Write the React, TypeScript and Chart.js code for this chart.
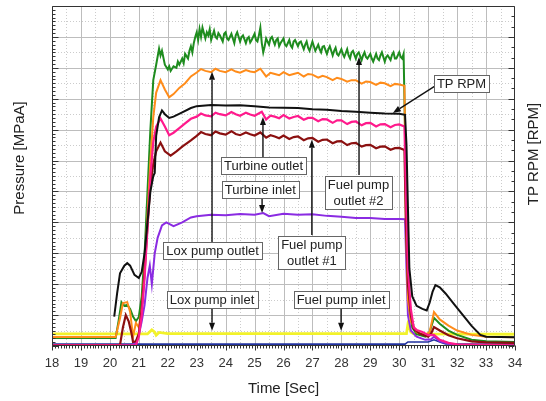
import React, { useEffect, useRef } from 'react';
import { Chart, registerables } from 'chart.js';
Chart.register(...registerables);

// ---- data (time [s], pressure value on 0..11 grid units) ----
const timeTicks = [18, 19, 20, 21, 22, 23, 24, 25, 26, 27, 28, 29, 30, 31, 32, 33, 34];

const greenPts: [number, number][] = [
  [18, 0.26], [20.2, 0.26], [20.3, 0.8], [20.4, 1.42], [20.5, 1.3], [20.6, 1.33], [20.7, 1.2], [20.8, 0.95],
  [20.9, 0.8], [21.0, 0.94], [21.1, 1.6], [21.2, 3.0], [21.3, 5.0], [21.4, 7.0], [21.5, 8.6], [21.6, 9.1],
  [21.7, 9.62], [21.75, 9.4], [21.8, 9.55], [21.9, 9.1], [22.0, 8.95], [22.05, 9.05], [22.1, 8.9], [22.2, 9.05],
  [22.3, 9.0], [22.35, 9.2], [22.4, 9.1], [22.5, 9.3], [22.55, 9.15], [22.6, 9.45], [22.7, 9.3], [22.75, 9.55],
  [22.8, 9.7], [22.85, 9.5], [22.9, 9.8], [22.95, 10.0], [23.0, 10.15], [23.05, 9.9], [23.1, 10.25], [23.15, 10.0],
  [23.2, 10.3], [23.3, 9.95], [23.35, 10.15], [23.4, 10.05], [23.45, 10.25], [23.5, 9.9], [23.6, 10.2], [23.65, 10.0],
  [23.7, 9.95], [23.75, 10.12], [23.8, 10.05], [23.9, 9.85], [23.95, 10.1], [24.0, 10.15], [24.05, 9.95], [24.1, 9.9],
  [24.2, 10.1], [24.25, 9.95], [24.3, 9.8], [24.35, 10.05], [24.4, 10.15], [24.5, 9.85], [24.55, 10.0], [24.6, 10.05],
  [24.7, 9.8], [24.75, 9.95], [24.8, 10.0], [24.85, 9.82], [24.9, 9.9], [25.0, 10.1], [25.05, 9.9], [25.1, 9.85],
  [25.15, 10.05], [25.2, 10.3], [25.25, 9.8], [25.3, 9.5], [25.35, 9.7], [25.4, 9.95], [25.5, 9.75], [25.55, 9.95],
  [25.6, 10.0], [25.7, 9.75], [25.75, 9.9], [25.8, 9.95], [25.85, 9.7], [25.9, 9.8], [26.0, 9.95], [26.05, 9.75],
  [26.1, 9.7], [26.2, 9.9], [26.25, 9.72], [26.3, 9.65], [26.35, 9.85], [26.4, 9.9], [26.5, 9.7], [26.55, 9.82],
  [26.6, 9.85], [26.7, 9.6], [26.75, 9.75], [26.8, 9.85], [26.85, 9.65], [26.9, 9.55], [27.0, 9.85], [27.05, 9.7],
  [27.1, 9.55], [27.2, 9.75], [27.25, 9.6], [27.3, 9.5], [27.35, 9.68], [27.4, 9.7], [27.5, 9.45], [27.55, 9.6],
  [27.6, 9.7], [27.7, 9.4], [27.75, 9.55], [27.8, 9.65], [27.85, 9.45], [27.9, 9.4], [28.0, 9.6], [28.05, 9.45],
  [28.1, 9.35], [28.2, 9.6], [28.25, 9.4], [28.3, 9.3], [28.35, 9.5], [28.4, 9.55], [28.5, 9.3], [28.55, 9.45],
  [28.6, 9.5], [28.7, 9.25], [28.75, 9.4], [28.8, 9.5], [28.85, 9.35], [28.9, 9.3], [29.0, 9.45], [29.05, 9.3],
  [29.1, 9.2], [29.2, 9.45], [29.25, 9.3], [29.3, 9.25], [29.35, 9.4], [29.4, 9.5], [29.5, 9.2], [29.55, 9.35],
  [29.6, 9.4], [29.7, 9.25], [29.75, 9.42], [29.8, 9.5], [29.85, 9.3], [29.9, 9.3], [30.0, 9.5], [30.05, 9.35],
  [30.1, 9.3], [30.15, 9.45],
  [30.22, 6.0], [30.28, 2.5], [30.35, 1.2], [30.45, 0.6], [30.6, 0.38], [30.9, 0.3], [31.05, 0.45], [31.2, 0.91],
  [31.4, 0.72], [31.7, 0.5], [32.0, 0.36], [32.5, 0.2], [33.0, 0.15], [34.0, 0.13],
];

const orangePts: [number, number][] = [
  [18, 0.29], [20.2, 0.29], [20.35, 0.9], [20.45, 1.39], [20.6, 1.42], [20.7, 1.1], [20.8, 0.3], [20.9, 0.75],
  [21.0, 0.6], [21.1, 1.2], [21.2, 2.5], [21.3, 4.2], [21.4, 6.0], [21.5, 7.4], [21.6, 8.2], [21.75, 8.6],
  [21.9, 8.3], [22.05, 8.05], [22.2, 8.15], [22.4, 8.35], [22.6, 8.5], [22.8, 8.72], [23.0, 8.85], [23.15, 8.96],
  [23.3, 8.9], [23.5, 8.86], [23.65, 8.97], [23.8, 8.9], [24.0, 8.86], [24.2, 8.95], [24.35, 8.88], [24.5, 8.84],
  [24.7, 8.93], [24.85, 8.88], [25.0, 8.86], [25.2, 8.97], [25.4, 8.72], [25.55, 8.84], [25.7, 8.8], [25.85, 8.76],
  [26.0, 8.86], [26.2, 8.76], [26.35, 8.8], [26.5, 8.84], [26.7, 8.72], [26.85, 8.8], [27.0, 8.78], [27.2, 8.68],
  [27.35, 8.74], [27.5, 8.7], [27.7, 8.6], [27.85, 8.68], [28.0, 8.64], [28.2, 8.55], [28.35, 8.6], [28.5, 8.6],
  [28.7, 8.49], [28.85, 8.56], [29.0, 8.54], [29.2, 8.45], [29.35, 8.52], [29.5, 8.5], [29.7, 8.41], [29.85, 8.48],
  [30.0, 8.46], [30.18, 8.42],
  [30.23, 4.0], [30.3, 1.5], [30.4, 0.8], [30.6, 0.45], [30.9, 0.35], [31.05, 0.45], [31.2, 1.1],
  [31.4, 0.86], [31.7, 0.66], [32.0, 0.5], [32.5, 0.36], [33.0, 0.3], [34.0, 0.28],
];

const blackPts: [number, number][] = [
  [20.15, 0.95], [20.25, 1.7], [20.35, 2.35], [20.5, 2.6], [20.6, 2.68], [20.7, 2.6], [20.85, 2.3], [21.0, 2.2],
  [21.1, 2.4], [21.2, 3.0], [21.3, 4.0], [21.4, 5.0], [21.5, 5.5], [21.55, 5.6], [21.6, 6.8], [21.7, 7.4],
  [21.8, 7.62], [21.9, 7.5], [22.05, 7.38], [22.2, 7.42], [22.5, 7.56], [22.8, 7.7], [23.0, 7.76], [23.5, 7.8],
  [24.0, 7.78], [24.5, 7.79], [25.0, 7.76], [25.5, 7.72], [26.0, 7.71], [26.5, 7.7], [27.0, 7.66], [27.5, 7.64],
  [28.0, 7.6], [28.5, 7.58], [29.0, 7.55], [29.5, 7.52], [30.0, 7.51], [30.2, 7.48],
  [30.25, 6.5], [30.3, 4.5], [30.35, 2.5], [30.45, 1.6], [30.6, 1.3], [30.8, 1.2], [30.95, 1.15], [31.05, 1.4],
  [31.15, 1.75], [31.25, 1.97], [31.4, 1.9], [31.6, 1.7], [31.9, 1.35], [32.2, 1.0], [32.5, 0.65], [32.8, 0.36],
  [33.0, 0.3], [34.0, 0.28],
];

const magentaPts: [number, number][] = [
  [18, 0.02], [20.9, 0.02], [21.0, 0.3], [21.1, 1.0], [21.2, 2.2], [21.3, 3.8], [21.4, 5.5], [21.5, 6.6],
  [21.6, 7.1], [21.75, 7.36], [21.9, 7.1], [22.05, 6.82], [22.2, 6.9], [22.4, 7.05], [22.6, 7.2], [22.8, 7.35],
  [23.0, 7.42], [23.15, 7.52], [23.3, 7.46], [23.5, 7.43], [23.65, 7.55], [23.8, 7.5], [24.0, 7.46], [24.2, 7.57],
  [24.35, 7.5], [24.5, 7.45], [24.7, 7.55], [24.85, 7.49], [25.0, 7.45], [25.25, 7.58], [25.4, 7.33], [25.55, 7.45],
  [25.7, 7.42], [25.85, 7.37], [26.0, 7.47], [26.2, 7.36], [26.35, 7.41], [26.5, 7.44], [26.7, 7.32], [26.85, 7.38],
  [27.0, 7.38], [27.2, 7.27], [27.35, 7.34], [27.5, 7.33], [27.7, 7.22], [27.85, 7.3], [28.0, 7.3], [28.2, 7.18],
  [28.35, 7.25], [28.5, 7.27], [28.7, 7.14], [28.85, 7.21], [29.0, 7.22], [29.2, 7.1], [29.35, 7.17], [29.5, 7.18],
  [29.7, 7.08], [29.85, 7.15], [30.0, 7.17], [30.18, 7.1],
  [30.23, 5.0], [30.3, 2.5], [30.4, 1.2], [30.5, 0.6], [30.6, 0.52], [30.8, 0.45], [31.0, 0.35], [31.2, 0.36],
  [31.4, 0.2], [31.7, 0.1], [32.0, 0.05], [34.0, 0.02],
];

const darkRedPts: [number, number][] = [
  [18, 0.03], [20.35, 0.03], [20.45, 0.6], [20.55, 1.0], [20.65, 0.8], [20.75, 0.4], [20.8, 0.13], [20.9, 0.15],
  [21.0, 0.4], [21.1, 1.2], [21.2, 2.4], [21.3, 3.9], [21.4, 5.2], [21.5, 5.9], [21.6, 6.3], [21.75, 6.58],
  [21.9, 6.3], [22.1, 6.16], [22.3, 6.3], [22.5, 6.45], [22.8, 6.65], [23.0, 6.8], [23.15, 6.92], [23.3, 6.86],
  [23.5, 6.82], [23.65, 6.94], [23.8, 6.88], [24.0, 6.84], [24.2, 6.95], [24.35, 6.86], [24.5, 6.82], [24.7, 6.91],
  [24.85, 6.85], [25.0, 6.81], [25.2, 6.91], [25.4, 6.74], [25.55, 6.82], [25.7, 6.78], [25.85, 6.72], [26.0, 6.81],
  [26.2, 6.7], [26.35, 6.76], [26.5, 6.78], [26.7, 6.66], [26.85, 6.72], [27.0, 6.73], [27.2, 6.61], [27.35, 6.67],
  [27.5, 6.68], [27.7, 6.56], [27.85, 6.62], [28.0, 6.63], [28.2, 6.5], [28.35, 6.56], [28.5, 6.57], [28.7, 6.45],
  [28.85, 6.5], [29.0, 6.51], [29.2, 6.4], [29.35, 6.45], [29.5, 6.46], [29.7, 6.35], [29.85, 6.4], [30.0, 6.41],
  [30.18, 6.34],
  [30.23, 4.0], [30.3, 2.0], [30.4, 1.0], [30.5, 0.55], [30.7, 0.4], [31.0, 0.3], [31.1, 0.4], [31.2, 0.61],
  [31.4, 0.5], [31.7, 0.35], [32.0, 0.25], [32.5, 0.15], [33.0, 0.12], [34.0, 0.1],
];

const purplePts: [number, number][] = [
  [18, 0.0], [20.75, 0.0], [20.9, 0.15], [21.0, 0.35], [21.1, 0.8], [21.2, 1.33], [21.3, 2.2], [21.38, 2.6],
  [21.45, 2.0], [21.55, 3.0], [21.65, 3.5], [21.8, 3.9], [21.95, 4.0], [22.2, 3.88], [22.5, 4.0], [22.8, 4.16],
  [23.0, 4.2], [23.5, 4.25], [24.0, 4.23], [24.5, 4.27], [25.0, 4.25], [25.3, 4.3], [25.5, 4.2], [26.0, 4.28],
  [26.5, 4.25], [27.0, 4.26], [27.5, 4.21], [28.0, 4.18], [28.5, 4.14], [29.0, 4.14], [29.5, 4.11], [30.0, 4.11],
  [30.2, 4.1], [30.25, 2.5], [30.3, 1.0], [30.4, 0.5], [30.6, 0.3], [30.9, 0.2], [31.1, 0.22], [31.2, 0.3],
  [31.4, 0.15], [31.8, 0.05], [32.0, 0.02], [34.0, 0.02],
];

const yellowPts: [number, number][] = [
  [18, 0.39], [21.3, 0.39], [21.45, 0.52], [21.55, 0.45], [21.6, 0.35], [21.7, 0.44], [22.0, 0.4], [25.0, 0.4],
  [30.25, 0.4], [30.3, 0.7], [30.35, 0.6], [30.4, 0.45], [30.5, 0.39], [34.0, 0.38],
];

const bluePts: [number, number][] = [
  [18, 0.06], [30.2, 0.06], [30.3, 0.13], [31.0, 0.13], [31.2, 0.2], [31.4, 0.13], [31.6, 0.07], [34.0, 0.06],
];

// ---- annotations (data coordinates) ----
const labelBoxes = [
  { lines: ['TP RPM'], t: 32.15, v: 8.5 },
  { lines: ['Turbine outlet'], t: 25.31, v: 5.83 },
  { lines: ['Turbine inlet'], t: 25.2, v: 5.05 },
  { lines: ['Lox pump outlet'], t: 23.55, v: 3.09 },
  { lines: ['Fuel pump', 'outlet #1'], t: 26.98, v: 3.03 },
  { lines: ['Fuel pump', 'outlet #2'], t: 28.59, v: 4.97 },
  { lines: ['Lox pump inlet'], t: 23.53, v: 1.5 },
  { lines: ['Fuel pump inlet'], t: 27.99, v: 1.5 },
];

const arrowLines = [
  { t1: 31.23, v1: 8.41, t2: 29.78, v2: 7.54 },
  { t1: 25.29, v1: 6.08, t2: 25.29, v2: 7.41 },
  { t1: 25.26, v1: 4.79, t2: 25.26, v2: 4.3 },
  { t1: 23.53, v1: 3.33, t2: 23.53, v2: 8.87 },
  { t1: 26.98, v1: 3.59, t2: 26.98, v2: 6.67 },
  { t1: 28.61, v1: 5.53, t2: 28.61, v2: 9.35 },
  { t1: 23.53, v1: 1.26, t2: 23.53, v2: 0.49 },
  { t1: 27.99, v1: 1.29, t2: 27.99, v2: 0.49 },
];

const FONT = '"Liberation Sans", Arial, sans-serif';

const decor = {
  id: 'decor',
  beforeDatasetsDraw(chart: any) {
    const { ctx, chartArea: a } = chart;
    const x = chart.scales.x, y = chart.scales.y;
    ctx.save();
    ctx.lineWidth = 1;
    // minor dotted grid
    ctx.strokeStyle = '#cccccc';
    ctx.setLineDash([1, 2]);
    for (let t = 18.5; t < 34; t += 1) {
      const px = Math.round(x.getPixelForValue(t)) + 0.5;
      ctx.beginPath(); ctx.moveTo(px, a.top); ctx.lineTo(px, a.bottom); ctx.stroke();
    }
    for (let v = 0.5; v < 11; v += 1) {
      const py = Math.round(y.getPixelForValue(v)) + 0.5;
      ctx.beginPath(); ctx.moveTo(a.left, py); ctx.lineTo(a.right, py); ctx.stroke();
    }
    ctx.setLineDash([]);
    ctx.strokeStyle = '#bdbdbd';
    for (let t = 19; t < 34; t += 1) {
      const px = Math.round(x.getPixelForValue(t)) + 0.5;
      ctx.beginPath(); ctx.moveTo(px, a.top); ctx.lineTo(px, a.bottom); ctx.stroke();
    }
    for (let v = 1; v < 11; v += 1) {
      const py = Math.round(y.getPixelForValue(v)) + 0.5;
      ctx.beginPath(); ctx.moveTo(a.left, py); ctx.lineTo(a.right, py); ctx.stroke();
    }
    ctx.restore();
  },
  afterDatasetsDraw(chart: any) {
    const { ctx, chartArea: a } = chart;
    const x = chart.scales.x, y = chart.scales.y;
    ctx.save();
    // frame
    ctx.strokeStyle = '#333';
    ctx.lineWidth = 1;
    const L = Math.round(a.left) + 0.5, R = Math.round(a.right) - 0.5;
    const T = Math.round(a.top) + 0.5, B = Math.round(a.bottom) - 0.5;
    ctx.beginPath();
    ctx.moveTo(L, T); ctx.lineTo(R, T); ctx.lineTo(R, B); ctx.lineTo(L, B); ctx.closePath();
    ctx.stroke();
    // left ticks (inward)
    for (let i = 0; i <= 88; i++) {
      const v = i / 8;
      const py = Math.round(y.getPixelForValue(v)) + 0.5;
      const len = i % 8 === 0 ? 6 : 3;
      ctx.beginPath(); ctx.moveTo(L, py); ctx.lineTo(L + len, py); ctx.stroke();
    }
    // right ticks (inward)
    for (let i = 0; i <= 33; i++) {
      const v = i / 3;
      const py = Math.round(y.getPixelForValue(v)) + 0.5;
      const len = i % 3 === 0 ? 6 : 3;
      ctx.beginPath(); ctx.moveTo(R, py); ctx.lineTo(R - len, py); ctx.stroke();
    }
    // bottom ticks (outward)
    for (let i = 0; i <= 160; i++) {
      const t = 18 + i / 10;
      const px = Math.round(x.getPixelForValue(t)) + 0.5;
      const len = i % 10 === 0 ? 5 : 3;
      ctx.beginPath(); ctx.moveTo(px, B); ctx.lineTo(px, B + len); ctx.stroke();
    }
    // arrows
    ctx.strokeStyle = '#111';
    ctx.fillStyle = '#111';
    ctx.lineWidth = 1.4;
    arrowLines.forEach((ar) => {
      const x1 = x.getPixelForValue(ar.t1), y1 = y.getPixelForValue(ar.v1);
      const x2 = x.getPixelForValue(ar.t2), y2 = y.getPixelForValue(ar.v2);
      const ang = Math.atan2(y2 - y1, x2 - x1);
      const hl = 8, hw = 3;
      const bx = x2 - Math.cos(ang) * hl, by = y2 - Math.sin(ang) * hl;
      ctx.beginPath(); ctx.moveTo(x1, y1); ctx.lineTo(bx, by); ctx.stroke();
      ctx.beginPath();
      ctx.moveTo(x2, y2);
      ctx.lineTo(bx + Math.sin(ang) * hw, by - Math.cos(ang) * hw);
      ctx.lineTo(bx - Math.sin(ang) * hw, by + Math.cos(ang) * hw);
      ctx.closePath(); ctx.fill();
    });
    // boxes
    ctx.font = `13px ${FONT}`;
    ctx.textAlign = 'center';
    ctx.textBaseline = 'middle';
    labelBoxes.forEach((b) => {
      const cx = x.getPixelForValue(b.t), cy = y.getPixelForValue(b.v);
      const w = Math.max(...b.lines.map((l) => ctx.measureText(l).width)) + 6;
      const lh = 16;
      const h = b.lines.length * lh + 1;
      const bx = Math.round(cx - w / 2) + 0.5, by = Math.round(cy - h / 2) + 0.5;
      ctx.fillStyle = '#fff';
      ctx.fillRect(bx, by, Math.round(w), Math.round(h));
      ctx.strokeStyle = '#666';
      ctx.lineWidth = 1;
      ctx.strokeRect(bx, by, Math.round(w), Math.round(h));
      ctx.fillStyle = '#222';
      b.lines.forEach((l, i) => {
        ctx.fillText(l, cx, by + lh / 2 + 1 + i * lh);
      });
    });
    // axis titles
    ctx.fillStyle = '#222';
    ctx.font = `15px ${FONT}`;
    ctx.textAlign = 'center';
    ctx.textBaseline = 'middle';
    ctx.fillText('Time [Sec]', (a.left + a.right) / 2, 389);
    ctx.save();
    ctx.translate(20, 158);
    ctx.rotate(-Math.PI / 2);
    ctx.fillText('Pressure [MPaA]', 0, 0);
    ctx.restore();
    ctx.save();
    ctx.translate(534, 154);
    ctx.rotate(-Math.PI / 2);
    ctx.fillText('TP RPM [RPM]', 0, 0);
    ctx.restore();
    ctx.restore();
  },
};

const seriesList = [
  { data: blackPts, color: '#111111', w: 2 },
  { data: magentaPts, color: '#ff1a8c', w: 2.2 },
  { data: darkRedPts, color: '#8b1010', w: 2.2 },
  { data: orangePts, color: '#ff8c1a', w: 2 },
  { data: greenPts, color: '#1e8c1e', w: 2 },
  { data: purplePts, color: '#8a2be2', w: 2 },
  { data: bluePts, color: '#2233a0', w: 1.6 },
  { data: yellowPts, color: '#f2f22a', w: 2.8 },
];

export default function App() {
  const ref = useRef<HTMLCanvasElement>(null);
  useEffect(() => {
    if (!ref.current) return;
    const chart = new Chart(ref.current, {
      type: 'line',
      data: {
        datasets: seriesList.map((s) => ({
          data: s.data.map(([t, v]) => ({ x: t, y: v })),
          borderColor: s.color,
          backgroundColor: s.color,
          borderWidth: s.w,
          pointRadius: 0,
          tension: 0,
          fill: false,
        })),
      },
      options: {
        animation: false,
        responsive: false,
        devicePixelRatio: 1,
        layout: { padding: { left: 52, right: 31, top: 6, bottom: 0 } },
        plugins: { legend: { display: false }, tooltip: { enabled: false } },
        scales: {
          x: {
            type: 'linear',
            min: 18,
            max: 34,
            afterFit: (s: any) => { s.height = 55; },
            afterBuildTicks: (s: any) => { s.ticks = timeTicks.map((v) => ({ value: v })); },
            grid: { display: false, drawTicks: false },
            border: { display: false },
            ticks: {
              autoSkip: false,
              maxRotation: 0,
              padding: 10,
              color: '#333',
              font: { family: FONT, size: 13 },
            },
          },
          y: { type: 'linear', min: 0, max: 11, display: false },
        },
      },
      plugins: [decor],
    } as any);
    return () => chart.destroy();
  }, []);
  return (
    <div style={{ position: 'fixed', left: 0, top: 0, width: 546, height: 401, background: '#fff' }}>
      <canvas ref={ref} width={546} height={401} />
    </div>
  );
}
